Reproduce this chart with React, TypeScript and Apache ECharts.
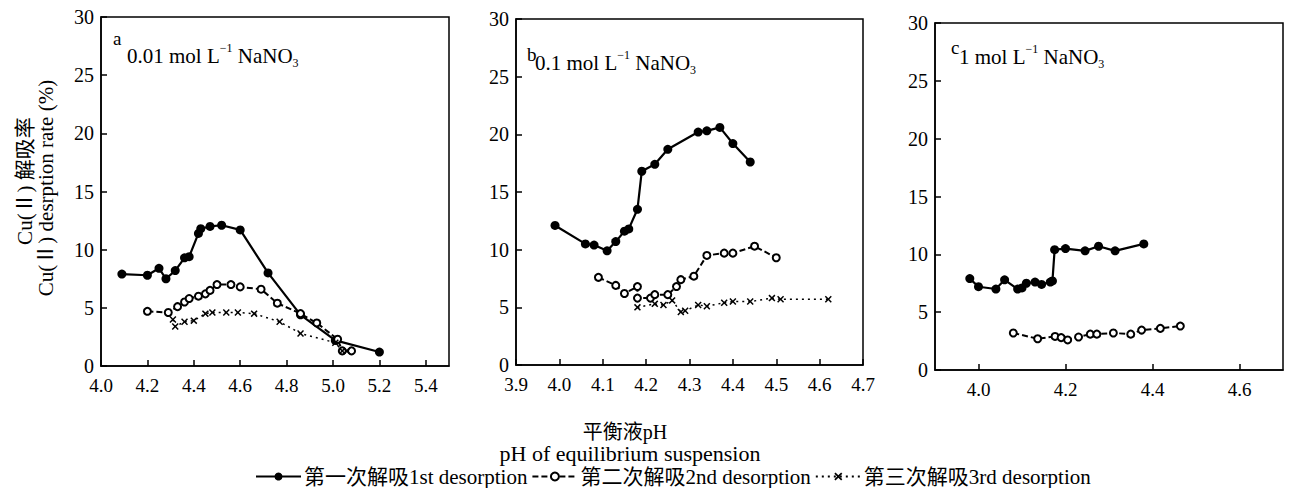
import React, { useEffect, useRef } from "react";
import * as echarts from "echarts";

const seriesNames = [
  "第一次解吸1st desorption",
  "第二次解吸2nd desorption",
  "第三次解吸3rd desorption",
];

const yTicks = [0, 5, 10, 15, 20, 25, 30];
const aXTicks = [4.0, 4.2, 4.4, 4.6, 4.8, 5.0, 5.2, 5.4];
const bXTicks = [3.9, 4.0, 4.1, 4.2, 4.3, 4.4, 4.5, 4.6, 4.7];
const cXTicks = [4.0, 4.2, 4.4, 4.6];

const panelTitles = [
  { letter: "a", conc: "0.01" },
  { letter: "b", conc: "0.1" },
  { letter: "c", conc: "1" },
];

// Panel a: 0.01 mol/L NaNO3  [pH, desorption %]
const aFirst: [number, number][] = [
  [4.09, 7.9], [4.2, 7.8], [4.25, 8.4], [4.28, 7.5], [4.32, 8.2], [4.36, 9.3],
  [4.38, 9.4], [4.42, 11.4], [4.43, 11.8], [4.47, 12.0], [4.52, 12.1],
  [4.6, 11.7], [4.72, 8.0], [4.86, 4.4], [5.01, 2.2], [5.2, 1.2],
];
const aSecond: [number, number][] = [
  [4.2, 4.7], [4.29, 4.6], [4.33, 5.1], [4.36, 5.5], [4.38, 5.8], [4.42, 6.0],
  [4.45, 6.2], [4.47, 6.5], [4.5, 7.0], [4.56, 7.0], [4.6, 6.8], [4.69, 6.6],
  [4.76, 5.4], [4.86, 4.5], [4.93, 3.7], [5.02, 2.3], [5.04, 1.3], [5.08, 1.3],
];
const aThird: [number, number][] = [
  [4.31, 4.0], [4.32, 3.4], [4.36, 3.8], [4.4, 3.9], [4.45, 4.5], [4.48, 4.6],
  [4.54, 4.6], [4.59, 4.6], [4.66, 4.5], [4.77, 3.8], [4.86, 2.8], [5.01, 2.0],
  [5.04, 1.3], [5.06, 1.3],
];

// Panel b: 0.1 mol/L NaNO3
const bFirst: [number, number][] = [
  [3.99, 12.1], [4.06, 10.5], [4.08, 10.4], [4.11, 9.9], [4.13, 10.7],
  [4.15, 11.6], [4.16, 11.8], [4.18, 13.5], [4.19, 16.8], [4.22, 17.4],
  [4.25, 18.7], [4.32, 20.2], [4.34, 20.3], [4.37, 20.6], [4.4, 19.2], [4.44, 17.6],
];
const bSecond: [number, number][] = [
  [4.09, 7.6], [4.13, 6.9], [4.15, 6.2], [4.18, 6.8], [4.18, 5.8], [4.21, 5.8],
  [4.22, 6.1], [4.25, 6.1], [4.27, 6.8], [4.28, 7.4], [4.31, 7.7], [4.34, 9.5],
  [4.38, 9.7], [4.4, 9.7], [4.45, 10.3], [4.5, 9.3],
];
const bThird: [number, number][] = [
  [4.18, 5.0], [4.22, 5.3], [4.24, 5.2], [4.26, 5.6], [4.28, 4.6], [4.29, 4.7],
  [4.32, 5.2], [4.34, 5.1], [4.38, 5.4], [4.4, 5.5], [4.44, 5.5], [4.49, 5.8],
  [4.51, 5.7], [4.62, 5.7],
];

// Panel c: 1 mol/L NaNO3
const cFirst: [number, number][] = [
  [3.98, 7.9], [4.0, 7.2], [4.04, 7.0], [4.06, 7.8], [4.09, 7.0], [4.1, 7.1],
  [4.11, 7.5], [4.13, 7.6], [4.145, 7.4], [4.165, 7.6], [4.17, 7.7], [4.175, 10.4],
  [4.2, 10.5], [4.245, 10.3], [4.276, 10.7], [4.314, 10.3], [4.38, 10.9],
];
const cSecond: [number, number][] = [
  [4.08, 3.2], [4.136, 2.7], [4.176, 2.9], [4.19, 2.8], [4.205, 2.6], [4.23, 2.85],
  [4.257, 3.1], [4.272, 3.1], [4.31, 3.2], [4.35, 3.1], [4.375, 3.45], [4.418, 3.6],
  [4.464, 3.8],
];

const FONT = "'Liberation Serif', 'Times New Roman', 'Noto Sans CJK SC', serif";
const CROSS =
  "path://M0,1.5 L1.5,0 L5,3.5 L8.5,0 L10,1.5 L6.5,5 L10,8.5 L8.5,10 L5,6.5 L1.5,10 L0,8.5 L3.5,5 Z";

export default function App() {
  const ref = useRef<HTMLDivElement>(null);

  useEffect(() => {
    document.body.style.margin = "0";
    if (!ref.current) return;
    const chart = echarts.init(ref.current, undefined, { renderer: "svg" });

    const grids = [
      { left: 101, top: 17, width: 348, height: 349 },
      { left: 516, top: 19, width: 347, height: 346 },
      { left: 935, top: 23, width: 348, height: 347 },
    ];
    const xRanges = [
      { min: 4.0, max: 5.5, ticks: aXTicks },
      { min: 3.9, max: 4.7, ticks: bXTicks },
      { min: 3.9, max: 4.7, ticks: cXTicks },
    ];
    const lineBlack = { color: "#000", width: 1.5 };

    const xAxis = xRanges.map((r, i) => ({
      gridIndex: i,
      type: "value",
      min: r.min,
      max: r.max,
      axisLine: { show: true, onZero: false, lineStyle: lineBlack },
      axisTick: { show: true, inside: true, length: 6, customValues: r.ticks, lineStyle: lineBlack },
      axisLabel: {
        customValues: r.ticks,
        formatter: (v: number) => v.toFixed(1),
        color: "#000",
        fontSize: 19,
        fontFamily: FONT,
        margin: 10,
      },
      splitLine: { show: false },
    }));

    const yAxis = grids.map((_, i) => ({
      gridIndex: i,
      type: "value",
      min: 0,
      max: 30,
      interval: 5,
      axisLine: { show: true, onZero: false, lineStyle: lineBlack },
      axisTick: { show: true, inside: true, length: 6, customValues: yTicks, lineStyle: lineBlack },
      axisLabel: {
        customValues: yTicks,
        color: "#000",
        fontSize: 20,
        fontFamily: FONT,
        margin: 7,
      },
      splitLine: { show: false },
    }));

    const styles = [
      {
        symbol: "circle",
        symbolSize: 9,
        lineStyle: { color: "#000", width: 2.2, type: "solid" },
        itemStyle: { color: "#000" },
      },
      {
        symbol: "emptyCircle",
        symbolSize: 7,
        lineStyle: { color: "#000", width: 2, type: [6, 3] },
        itemStyle: { color: "#000", borderWidth: 1.5 },
      },
      {
        symbol: CROSS,
        symbolSize: 7,
        lineStyle: { color: "#000", width: 1.5, type: [2, 4] },
        itemStyle: { color: "#000" },
      },
    ];

    const panels = [
      [aFirst, aSecond, aThird],
      [bFirst, bSecond, bThird],
      [cFirst, cSecond],
    ];

    const series: any[] = [];
    panels.forEach((sets, pi) => {
      sets.forEach((data, si) => {
        series.push({
          type: "line",
          name: seriesNames[si],
          xAxisIndex: pi,
          yAxisIndex: pi,
          data,
          ...styles[si],
        });
      });
    });

    const titlePos = [
      { lx: 113, ly: 29, tx: 127, ty: 42 },
      { lx: 527, ly: 45, tx: 535, ty: 49 },
      { lx: 951, ly: 38, tx: 959, ty: 43 },
    ];

    const graphic: any[] = [];
    panelTitles.forEach((t, i) => {
      const p = titlePos[i];
      graphic.push({
        type: "text",
        left: p.lx,
        top: p.ly,
        style: { text: t.letter, font: `19px ${FONT}`, fill: "#000" },
      });
      graphic.push({
        type: "text",
        left: p.tx,
        top: p.ty,
        style: {
          text: `{n|${t.conc} mol L}{sup|−1}{n| NaNO}{sub|3}`,
          fill: "#000",
          rich: {
            n: { fontSize: 21, fontFamily: FONT, lineHeight: 27, verticalAlign: "middle", fill: "#000" },
            sup: { fontSize: 12, fontFamily: FONT, lineHeight: 27, verticalAlign: "top", fill: "#000" },
            sub: { fontSize: 12, fontFamily: FONT, lineHeight: 27, verticalAlign: "bottom", fill: "#000" },
          },
        },
      });
    });

    graphic.push({
      type: "text",
      x: 25,
      y: 181,
      rotation: Math.PI / 2,
      style: {
        text: "Cu(Ⅱ) 解吸率",
        font: `21px ${FONT}`,
        fill: "#000",
        align: "center",
        verticalAlign: "middle",
      },
    });
    graphic.push({
      type: "text",
      x: 46,
      y: 188,
      rotation: Math.PI / 2,
      style: {
        text: "Cu(Ⅱ) desrption rate (%)",
        font: `21px ${FONT}`,
        fill: "#000",
        align: "center",
        verticalAlign: "middle",
      },
    });
    graphic.push({
      type: "text",
      x: 625,
      y: 432,
      style: { text: "平衡液pH", font: `20px ${FONT}`, fill: "#000", align: "center", verticalAlign: "middle" },
    });
    graphic.push({
      type: "text",
      x: 630,
      y: 453,
      style: {
        text: "pH of equilibrium suspension",
        font: `22px ${FONT}`,
        fill: "#000",
        align: "center",
        verticalAlign: "middle",
      },
    });

    chart.setOption({
      animation: false,
      backgroundColor: "#fff",
      grid: grids.map((g) => ({ ...g, show: true, borderColor: "#000", borderWidth: 1.5, backgroundColor: "transparent" })),
      xAxis,
      yAxis,
      series,
      legend: {
        data: seriesNames,
        left: 255,
        top: 466,
        padding: 0,
        itemWidth: 45,
        itemHeight: 10,
        itemGap: 4,
        textStyle: { fontSize: 21, fontFamily: FONT, color: "#000", padding: [0, 0, 0, -2] },
      },
      graphic,
    });

    return () => chart.dispose();
  }, []);

  return <div ref={ref} style={{ width: 1290, height: 488 }} />;
}
